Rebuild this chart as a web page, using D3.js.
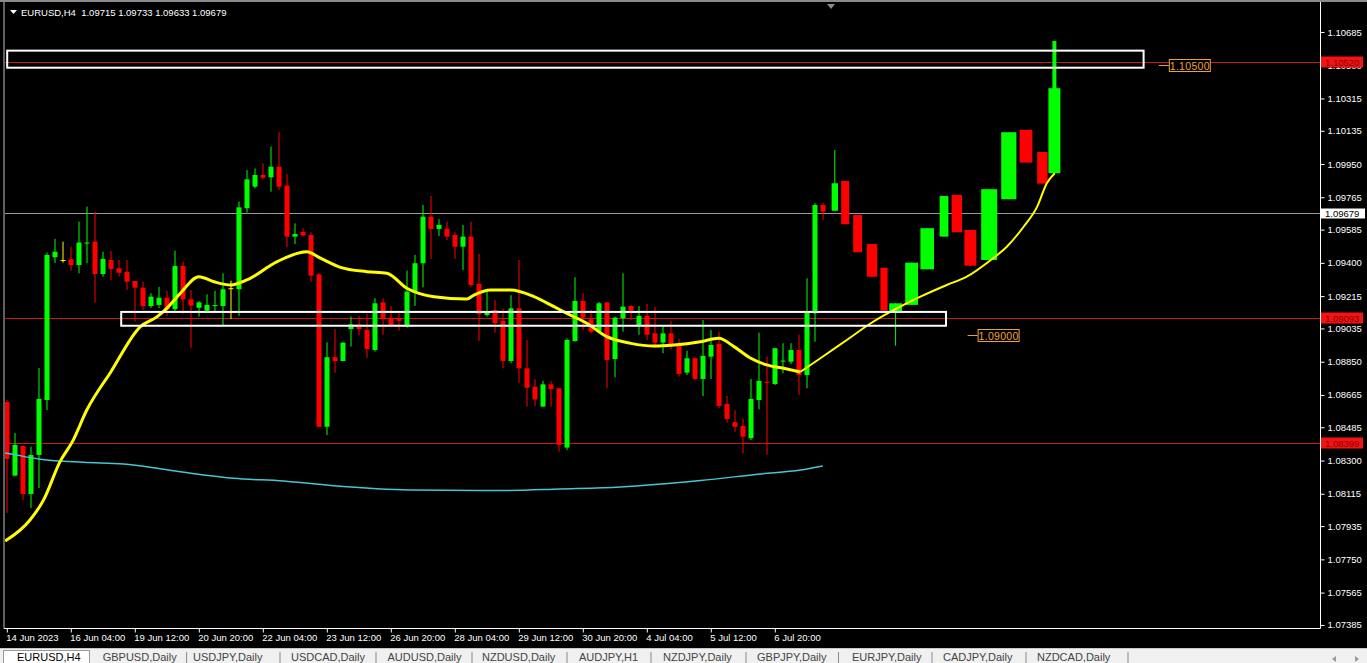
<!DOCTYPE html>
<html><head><meta charset="utf-8">
<script src="https://cdn.jsdelivr.net/npm/d3@7"></script>
<style>html,body{margin:0;padding:0;background:#000;overflow:hidden}text{font-family:"Liberation Sans",Arial,sans-serif}</style>
</head><body>
<svg id="c" width="1367" height="663"></svg>
<script>
// ---------------- DATA ----------------
const symbolTitle = "EURUSD,H4  1.09715 1.09733 1.09633 1.09679";
const priceTicks = [1.10685,1.10500,1.10315,1.10135,1.09950,1.09765,1.09585,1.09400,1.09215,1.09035,1.08850,1.08665,1.08485,1.08300,1.08115,1.07935,1.07750,1.07565,1.07385];
const timeLabels = ["14 Jun 2023","16 Jun 04:00","19 Jun 12:00","20 Jun 20:00","22 Jun 04:00","23 Jun 12:00","26 Jun 20:00","28 Jun 04:00","29 Jun 12:00","30 Jun 20:00","4 Jul 04:00","5 Jul 12:00","6 Jul 20:00"];
const timeLabelBars = [0,8,16,24,32,40,48,56,64,72,80,88,96];
// H4 candles [open, high, low, close], bar index = position in array
const ohlc = [
[1.08626,1.08637,1.08008,1.08309],[1.08216,1.08453,1.08212,1.08387],[1.08381,1.08384,1.08081,1.08114],[1.08114,1.08377,1.08036,1.08331],
[1.08331,1.08815,1.08147,1.08643],[1.08637,1.09457,1.08581,1.09444],[1.09431,1.09533,1.09399,1.09462],[1.09416,1.09518,1.09401,1.09416],
[1.09420,1.09490,1.09357,1.09388],[1.09388,1.09629,1.09342,1.09513],[1.09508,1.09713,1.09398,1.09513],[1.09518,1.09683,1.09179,1.09338],
[1.09338,1.09462,1.09323,1.09422],[1.09416,1.09466,1.09305,1.09366],[1.09370,1.09416,1.09323,1.09345],[1.09351,1.09416,1.09249,1.09295],
[1.09299,1.09299,1.09073,1.09262],[1.09262,1.09295,1.09138,1.09160],[1.09160,1.09231,1.09149,1.09212],[1.09166,1.09266,1.09149,1.09206],
[1.09206,1.09244,1.09105,1.09142],[1.09142,1.09468,1.09128,1.09383],[1.09383,1.09407,1.09117,1.09197],[1.09197,1.09249,1.08925,1.09162],
[1.09150,1.09188,1.09101,1.09180],[1.09134,1.09225,1.09128,1.09166],[1.09162,1.09244,1.09128,1.09165],[1.09160,1.09342,1.09050,1.09253],
[1.09259,1.09301,1.09087,1.09259],[1.09253,1.09741,1.09105,1.09709],[1.09704,1.09917,1.09680,1.09865],[1.09824,1.09926,1.09815,1.09889],
[1.09889,1.09954,1.09865,1.09874],[1.09876,1.10047,1.09796,1.09935],[1.09935,1.10127,1.09806,1.09824],[1.09830,1.09893,1.09487,1.09546],
[1.09546,1.09620,1.09505,1.09561],[1.09572,1.09593,1.09546,1.09553],[1.09555,1.09570,1.09295,1.09329],[1.09336,1.09345,1.08485,1.08488],
[1.08488,1.08958,1.08442,1.08875],[1.08875,1.09032,1.08789,1.08854],[1.08854,1.08958,1.08854,1.08956],[1.09031,1.09101,1.08934,1.09058],
[1.09058,1.09105,1.08999,1.09031],[1.09027,1.09116,1.08872,1.08921],[1.08915,1.09203,1.08906,1.09175],[1.09180,1.09203,1.08999,1.09092],
[1.09095,1.09160,1.09045,1.09050],[1.09088,1.09119,1.09023,1.09077],[1.09045,1.09357,1.09040,1.09240],[1.09234,1.09444,1.09160,1.09398],
[1.09398,1.09722,1.09264,1.09657],[1.09657,1.09772,1.09422,1.09589],[1.09589,1.09643,1.09550,1.09611],[1.09589,1.09629,1.09527,1.09546],
[1.09555,1.09570,1.09422,1.09490],[1.09490,1.09611,1.09360,1.09546],[1.09546,1.09629,1.09264,1.09277],[1.09283,1.09450,1.08965,1.09114],
[1.09110,1.09240,1.09101,1.09123],[1.09138,1.09194,1.09012,1.09064],[1.09077,1.09147,1.08813,1.08854],[1.08854,1.09220,1.08841,1.09147],
[1.09147,1.09416,1.08733,1.08813],[1.08813,1.08971,1.08600,1.08705],[1.08711,1.08752,1.08604,1.08640],[1.08600,1.08743,1.08600,1.08724],
[1.08724,1.08743,1.08600,1.08698],[1.08702,1.08704,1.08349,1.08387],[1.08372,1.08980,1.08359,1.08971],[1.08965,1.09320,1.08961,1.09188],
[1.09188,1.09231,1.09027,1.09095],[1.09086,1.09138,1.09008,1.09017],[1.09017,1.09184,1.09008,1.09175],[1.09180,1.09180,1.08702,1.08860],
[1.08865,1.09101,1.08763,1.09095],[1.09092,1.09342,1.09017,1.09156],[1.09160,1.09166,1.09082,1.09134],[1.09050,1.09160,1.09000,1.09105],
[1.09105,1.09171,1.08971,1.09000],[1.09008,1.09156,1.08925,1.08956],[1.08956,1.09045,1.08897,1.09008],[1.09008,1.09077,1.08919,1.08943],
[1.08949,1.08977,1.08767,1.08782],[1.08789,1.08911,1.08776,1.08869],[1.08869,1.08875,1.08748,1.08754],[1.08754,1.09082,1.08659,1.08882],
[1.08878,1.09027,1.08754,1.08943],[1.08949,1.09017,1.08591,1.08604],[1.08615,1.08659,1.08511,1.08531],[1.08513,1.08580,1.08460,1.08488],
[1.08492,1.08534,1.08340,1.08433],[1.08424,1.08754,1.08414,1.08643],[1.08637,1.09012,1.08585,1.08743],[1.08738,1.08878,1.08331,1.08736],
[1.08726,1.08925,1.08720,1.08925],[1.08854,1.08953,1.08786,1.08856],[1.08850,1.08953,1.08837,1.08915],[1.08915,1.09000,1.08665,1.08776],
[1.08776,1.09314,1.08702,1.09124],[1.09119,1.09732,1.08961,1.09722],[1.09722,1.09735,1.09639,1.09685]
];
// drawn (projected) candles: [fromBar, toBar, open, high, low, close]
const drawnCandles = [
[103.1,103.9,1.09690,1.10028,1.09690,1.09843],[104.3,105.3,1.09856,1.09856,1.09615,1.09615],
[105.8,106.9,1.09666,1.09666,1.09459,1.09459],[107.5,108.8,1.09505,1.09505,1.09323,1.09323],
[109.2,110.1,1.09373,1.09373,1.09134,1.09134],[110.3,111.9,1.09128,1.09175,1.08939,1.09175],
[112.3,113.9,1.09166,1.09401,1.09166,1.09401],[114.2,115.9,1.09364,1.09593,1.09364,1.09593],
[116.6,117.7,1.09546,1.09772,1.09546,1.09772],[118.1,119.4,1.09778,1.09778,1.09570,1.09570],
[119.7,121.2,1.09583,1.09583,1.09384,1.09384],[121.8,123.8,1.09416,1.09810,1.09416,1.09810],
[124.3,126.2,1.09754,1.10127,1.09754,1.10127],[126.6,128.2,1.10140,1.10140,1.09958,1.09958],
[128.8,130.1,1.10017,1.10017,1.09841,1.09841],[130.2,131.7,1.09899,1.10635,1.09899,1.10372]
];
// moving averages [bar, price]
const fastMA = [[-0.2,1.07852],[2.9,1.07969],[4.6,1.08081],[6.7,1.08298],[8.2,1.08405],[10,1.08581],[13,1.08793],[16.7,1.09045],[18.8,1.09101],[20,1.09147],[21.7,1.09231],[24,1.09323],[25.9,1.09295],[28,1.09277],[30,1.09305],[33.8,1.09407],[37.5,1.09462],[39.2,1.09426],[41.7,1.09375],[45,1.09351],[47.5,1.09342],[50,1.09259],[53.4,1.09212],[57.5,1.09199],[58.4,1.09221],[60.5,1.09249],[63,1.09249],[65.9,1.09212],[68.4,1.09156],[70,1.09119],[72.5,1.09064],[75,1.08989],[78,1.08952],[80.9,1.08937],[83.4,1.08943],[86.7,1.08961],[89,1.0898],[90.9,1.08934],[93,1.08869],[95,1.08832],[97.1,1.08813],[99.2,1.08793]];
const fastMAext = [[99.2,1.08793],[101.7,1.08869],[105,1.08971],[108,1.09064],[110.9,1.09138],[114.2,1.09212],[117.5,1.09277],[120,1.09323],[123,1.09416],[125,1.0949],[127.1,1.09601],[128.8,1.09713],[130,1.09843],[131,1.09899]];
const slowMA = [[-0.2,1.08342],[0.2,1.08339],[4.2,1.08307],[9.6,1.0829],[14.6,1.08281],[19.6,1.08251],[23,1.08229],[28.3,1.08201],[34.6,1.08186],[40.5,1.08161],[50.5,1.08136],[61.7,1.08133],[69.2,1.08142],[76.7,1.08153],[86.7,1.08189],[94.2,1.08225],[99.2,1.08247],[102,1.0827]];
const redLevels = [1.10520, 1.09093, 1.08399];
const bidPrice = 1.09679;
// zones [fromBar, toBar, topPrice, bottomPrice]
const zones = [[0.05,142.1,1.10581,1.10486],[14.3,117.4,1.09127,1.09050]];
// price labels [price, anchorBar, text]
const priceLabels = [[1.10500,144.0,"1.10500"],[1.09000,120.1,"1.09000"]];
const tabNames = ["EURUSD,H4","GBPUSD,Daily","USDJPY,Daily","USDCAD,Daily","AUDUSD,Daily","NZDUSD,Daily","AUDJPY,H1","NZDJPY,Daily","GBPJPY,Daily","EURJPY,Daily","CADJPY,Daily","NZDCAD,Daily"];

// ---------------- LAYOUT ----------------
const svg = d3.select("#c");
const P = {left:5, right:1320, top:5, bottom:628};
const x = d3.scaleLinear().domain([0,164]).range([6.8, 6.8+8*164]);
const y = d3.scaleLinear().domain([1.07368,1.10835]).range([P.bottom, P.top]);
const GREEN="#00ff00", RED="#ff0000", YEL="#ffff00";

svg.append("rect").attr("width",1367).attr("height",663).attr("fill","#000");
svg.append("defs").append("clipPath").attr("id","clip").append("rect")
  .attr("x",P.left).attr("y",P.top-3).attr("width",P.right-P.left).attr("height",P.bottom-P.top+3);
const g = svg.append("g").attr("clip-path","url(#clip)");

// horizontal levels
g.selectAll(".lvl").data(redLevels).join("line")
  .attr("x1",P.left).attr("x2",P.right).attr("y1",d=>Math.round(y(d))+0.5).attr("y2",d=>Math.round(y(d))+0.5)
  .attr("stroke","#c41a1a").attr("stroke-width",1);
g.append("line").attr("x1",P.left).attr("x2",P.right)
  .attr("y1",Math.round(y(bidPrice))+0.5).attr("y2",Math.round(y(bidPrice))+0.5)
  .attr("stroke","#9a9a9a").attr("stroke-width",1);

// candles
const candleCol = d => d[3]>d[0]?GREEN:(d[3]<d[0]?RED:YEL);
const cg = g.append("g");
cg.selectAll(".wick").data(ohlc).join("rect")
  .attr("x",(d,i)=>Math.round(x(i))-0.5).attr("width",1)
  .attr("y",d=>y(d[1])).attr("height",d=>Math.max(1,y(d[2])-y(d[1])))
  .attr("fill",candleCol);
cg.selectAll(".body").data(ohlc).join("rect")
  .attr("x",(d,i)=>Math.round(x(i))-2.5).attr("width",5)
  .attr("y",d=>y(Math.max(d[0],d[3]))).attr("height",d=>Math.max(1,Math.abs(y(d[0])-y(d[3]))))
  .attr("fill",candleCol);

// drawn candles
const dg = g.append("g");
dg.selectAll(".dw").data(drawnCandles).join("rect")
  .attr("x",(d,i)=>{const w=i===drawnCandles.length-1?4:1; return (x(d[0])+x(d[1]))/2-w/2;})
  .attr("width",(d,i)=>i===drawnCandles.length-1?4:1)
  .attr("y",d=>y(d[3])).attr("height",d=>Math.max(1,y(d[4])-y(d[3])))
  .attr("fill",d=>d[5]>d[2]?GREEN:RED);
dg.selectAll(".db").data(drawnCandles).join("rect")
  .attr("x",d=>x(d[0])).attr("width",d=>x(d[1])-x(d[0]))
  .attr("y",d=>y(Math.max(d[2],d[5]))).attr("height",d=>Math.abs(y(d[2])-y(d[5])))
  .attr("fill",d=>d[5]>d[2]?GREEN:RED);

// moving averages
const line = d3.line().x(d=>x(d[0])).y(d=>y(d[1])).curve(d3.curveMonotoneX);
g.append("path").attr("d",line(slowMA)).attr("fill","none").attr("stroke","#45c6d6").attr("stroke-width",1.5);
g.append("path").attr("d",line(fastMA)).attr("fill","none").attr("stroke",YEL).attr("stroke-width",3);
g.append("path").attr("d",line(fastMAext)).attr("fill","none").attr("stroke",YEL).attr("stroke-width",2);

// zones
g.selectAll(".zone").data(zones).join("rect")
  .attr("x",d=>x(d[0])).attr("width",d=>x(d[1])-x(d[0]))
  .attr("y",d=>y(d[2])).attr("height",d=>y(d[3])-y(d[2]))
  .attr("fill","none").attr("stroke","#fff").attr("stroke-width",2);

// price labels
const ORG="#e9a23b";
const pl = g.selectAll(".pl").data(priceLabels).join("g");
pl.append("line").attr("x1",d=>x(d[1])).attr("x2",d=>x(d[1])+10)
  .attr("y1",d=>Math.round(y(d[0]))+0.5).attr("y2",d=>Math.round(y(d[0]))+0.5).attr("stroke",ORG);
pl.append("rect").attr("x",d=>x(d[1])+10.5).attr("width",41).attr("y",d=>Math.round(y(d[0]))-5.5).attr("height",12)
  .attr("fill","#000").attr("stroke",ORG);
pl.append("text").attr("x",d=>x(d[1])+31).attr("y",d=>Math.round(y(d[0]))+4.5).attr("text-anchor","middle")
  .attr("fill",ORG).attr("font-size","10.5px").attr("letter-spacing","0.3px").text(d=>d[2]);

// ---------------- AXES ----------------
const yAxis = d3.axisRight(y).tickValues(priceTicks).tickSize(4).tickSizeOuter(0).tickFormat(d3.format(".5f"));
const ya = svg.append("g").attr("transform",`translate(${P.right+0.5},0)`).call(yAxis);
ya.select(".domain").remove();
ya.selectAll("line").attr("stroke","#fff");
ya.selectAll("text").attr("fill","#fff").attr("font-size","9.5px").attr("x",7).attr("font-family","Liberation Sans, Arial, sans-serif");

const xAxis = d3.axisBottom(x).tickValues(timeLabelBars).tickSize(4).tickSizeOuter(0).tickFormat((d,i)=>timeLabels[i]);
const xa = svg.append("g").attr("transform",`translate(0,${P.bottom+0.5})`).call(xAxis);
xa.select(".domain").remove();
xa.selectAll("line").attr("stroke","#fff");
xa.selectAll("text").attr("fill","#fff").attr("font-size","9.5px").attr("text-anchor","start").attr("x",-1).attr("y",6)
  .attr("font-family","Liberation Sans, Arial, sans-serif");

// frame lines
svg.append("line").attr("x1",P.left-1).attr("x2",P.right+0.5).attr("y1",P.bottom+0.5).attr("y2",P.bottom+0.5).attr("stroke","#fff");
svg.append("line").attr("x1",P.right+0.5).attr("x2",P.right+0.5).attr("y1",2).attr("y2",P.bottom+0.5).attr("stroke","#fff");
svg.append("line").attr("x1",4).attr("x2",4).attr("y1",2).attr("y2",P.bottom+0.5).attr("stroke","#bdbdbd");
svg.append("line").attr("x1",0).attr("x2",1367).attr("y1",1).attr("y2",1).attr("stroke","#8a8a8a").attr("stroke-width",2);

// right-side level labels
const lvlLab = svg.selectAll(".ll").data(redLevels).join("g");
lvlLab.append("rect").attr("x",P.right+1).attr("width",42).attr("y",d=>Math.round(y(d))-5.5).attr("height",11).attr("fill","#f21414");
lvlLab.append("text").attr("x",P.right+5).attr("y",d=>Math.round(y(d))+4).attr("fill","#8e0000").attr("font-size","9.5px").text(d=>d.toFixed(5));
svg.append("rect").attr("x",P.right+1).attr("width",44).attr("y",Math.round(y(bidPrice))-4.5).attr("height",10).attr("fill","#fff");
svg.append("text").attr("x",P.right+5).attr("y",Math.round(y(bidPrice))+4).attr("fill","#000").attr("font-size","9.5px").text(bidPrice.toFixed(5));

// header
svg.append("path").attr("d","M10,10 L17,10 L13.5,14 Z").attr("fill","#fff");
svg.append("text").attr("x",21).attr("y",16).attr("fill","#fff").attr("font-size","9.5px").style("white-space","pre").text(symbolTitle);
svg.append("path").attr("d","M827,4 L835,4 L831,9 Z").attr("fill","#8a8a8a");

// ---------------- TABS ----------------
svg.append("rect").attr("x",0).attr("y",648).attr("width",1367).attr("height",15).attr("fill","#f0f0f0");
svg.append("line").attr("x1",0).attr("x2",1367).attr("y1",648.5).attr("y2",648.5).attr("stroke","#c8c8c8");
svg.append("rect").attr("x",3.5).attr("y",650.5).attr("width",86).attr("height",14).attr("fill","#fff").attr("stroke","#9a9a9a");
const tabX = [17,102.7,193,291,387.5,482,579,663,757,852,943,1037];
const sepX = [186.6,280,376,472,567,651,746,838.5,932,1026,1128];
svg.selectAll(".tab").data(tabNames).join("text")
  .attr("x",(d,i)=>tabX[i]).attr("y",661).attr("font-size","11px").attr("fill",(d,i)=>i===0?"#000":"#444").text(d=>d);
svg.selectAll(".sep").data(sepX).join("line")
  .attr("x1",d=>d).attr("x2",d=>d).attr("y1",652).attr("y2",663).attr("stroke","#8a8a8a");
svg.append("path").attr("d","M1336,656 L1332,659 L1336,662 Z").attr("fill","#9a9a9a");
svg.append("path").attr("d","M1355,656 L1359,659 L1355,662 Z").attr("fill","#9a9a9a");
</script>
</body></html>
